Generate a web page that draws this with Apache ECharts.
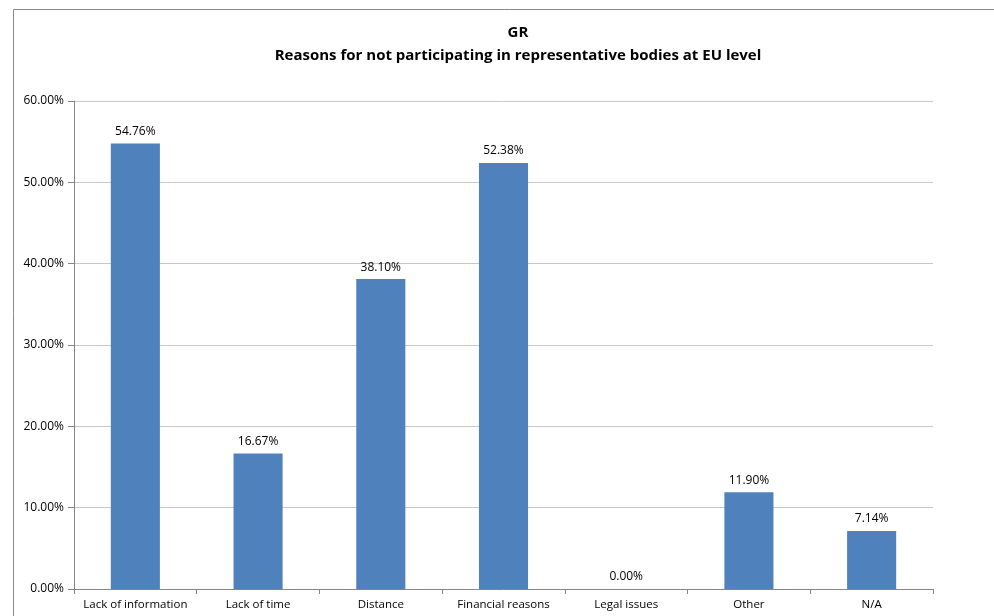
<!DOCTYPE html>
<html><head><meta charset="utf-8">
<script src="https://cdn.jsdelivr.net/npm/echarts@6/dist/echarts.min.js"></script>
<style>html,body{margin:0;padding:0;background:#fff}#c{width:994px;height:616px}</style>
</head><body><div id="c"></div>
<script>
const categories = ["Lack of information","Lack of time","Distance","Financial reasons","Legal issues","Other","N/A"];
const values = [54.76, 16.67, 38.10, 52.38, 0.00, 11.90, 7.14];
const yTicks = [0, 10, 20, 30, 40, 50, 60];
const titleLines = ["GR", "Reasons for not participating in representative bodies at EU level"];

const chart = echarts.init(document.getElementById('c'));
chart.setOption({
  animation: false,
  backgroundColor: '#fff',
  textStyle: { fontFamily: 'Open Sans' },
  graphic: [{
    type: 'rect', shape: { x: 13.5, y: 9.5, width: 1200, height: 800 },
    style: { fill: 'none', stroke: '#8a8a8a', lineWidth: 1 }, silent: true
  }],
  title: {
    text: titleLines.join('\n'),
    left: 513, top: 16, textAlign: 'center',
    textStyle: { fontFamily: 'Open Sans', fontSize: 15, fontWeight: 'bold', color: '#000', lineHeight: 23 }
  },
  grid: { left: 74, right: 61, top: 101, bottom: 27 },
  xAxis: {
    type: 'category', data: categories,
    axisLine: { lineStyle: { color: '#868686' } },
    axisTick: { show: true, length: 5, lineStyle: { color: '#868686' } },
    axisLabel: { color: '#000', fontSize: 11.5, margin: 10, interval: 0 }
  },
  yAxis: {
    type: 'value', min: yTicks[0], max: yTicks[yTicks.length - 1], interval: 10,
    axisLine: { show: true, lineStyle: { color: '#868686' } },
    axisTick: { show: true, length: 6, lineStyle: { color: '#868686' } },
    splitLine: { lineStyle: { color: '#c8c8c8' } },
    axisLabel: { color: '#000', fontSize: 12, margin: 10, formatter: v => v.toFixed(2) + '%' }
  },
  series: [{
    type: 'bar', data: values, barWidth: '40%',
    itemStyle: { color: '#4f81bd' },
    label: { show: true, position: 'top', distance: 6, color: '#000', fontSize: 12,
      formatter: p => p.value.toFixed(2) + '%' }
  }]
});
</script></body></html>
